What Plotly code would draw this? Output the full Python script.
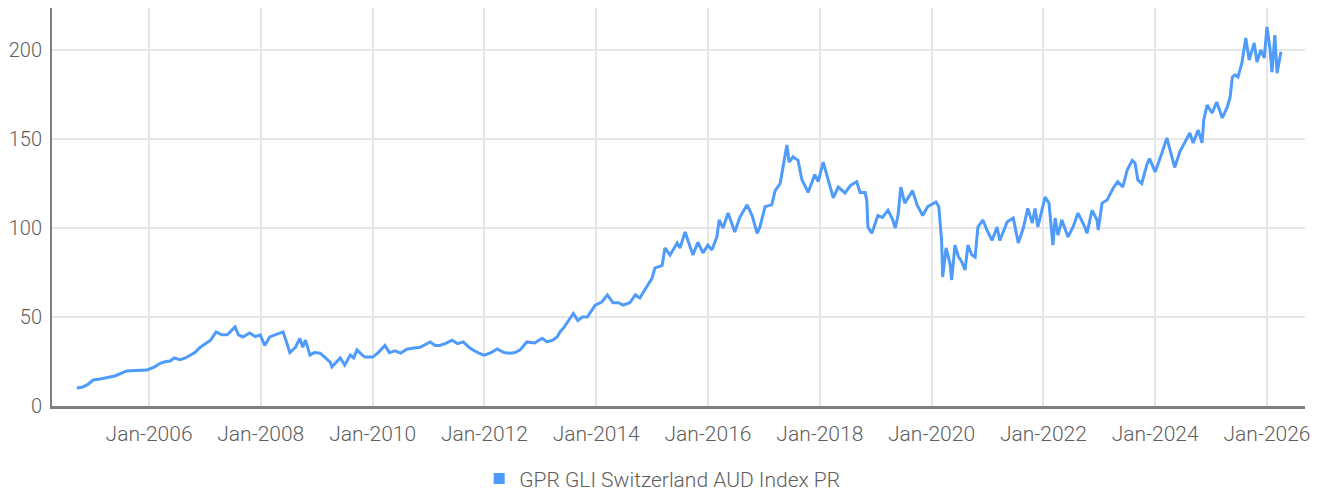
import plotly.graph_objects as go
import pandas as pd

# decimal-year positions
years = [
    2004.71, 2004.80, 2004.90, 2005.00, 2005.10, 2005.20, 2005.30, 2005.40, 2005.50, 2005.60,
    2005.75, 2005.96, 2006.10, 2006.20, 2006.30, 2006.38, 2006.45, 2006.55, 2006.65, 2006.73,
    2006.82, 2006.90, 2007.00, 2007.10, 2007.20, 2007.30, 2007.40, 2007.47, 2007.54, 2007.60,
    2007.68, 2007.80, 2007.90, 2007.99, 2008.07, 2008.16, 2008.28, 2008.40, 2008.46, 2008.52,
    2008.62, 2008.70, 2008.75, 2008.80, 2008.88, 2008.96, 2009.06, 2009.15, 2009.24, 2009.27,
    2009.35, 2009.42, 2009.50, 2009.60, 2009.66, 2009.72, 2009.80, 2009.86, 2010.00, 2010.10,
    2010.22, 2010.30, 2010.40, 2010.50, 2010.62, 2010.72, 2010.85, 2011.03, 2011.12, 2011.20,
    2011.30, 2011.42, 2011.52, 2011.62, 2011.68, 2011.74, 2011.82, 2011.90, 2012.00, 2012.12,
    2012.23, 2012.35, 2012.46, 2012.55, 2012.64, 2012.76, 2012.90, 2013.03, 2013.12, 2013.22,
    2013.30, 2013.35, 2013.42, 2013.48, 2013.59, 2013.67, 2013.75, 2013.84, 2013.92, 2013.98,
    2014.10, 2014.20, 2014.30, 2014.40, 2014.48, 2014.60, 2014.70, 2014.78, 2014.90, 2015.00,
    2015.05, 2015.18, 2015.23, 2015.32, 2015.45, 2015.50, 2015.59, 2015.64, 2015.73, 2015.82,
    2015.91, 2016.00, 2016.07, 2016.16, 2016.20, 2016.27, 2016.36, 2016.48, 2016.57, 2016.70,
    2016.79, 2016.88, 2016.93, 2017.02, 2017.14, 2017.20, 2017.29, 2017.34, 2017.41, 2017.45,
    2017.52, 2017.61, 2017.68, 2017.73, 2017.79, 2017.85, 2017.91, 2017.97, 2018.06, 2018.15,
    2018.24, 2018.33, 2018.45, 2018.55, 2018.66, 2018.72, 2018.81, 2018.84, 2018.86, 2018.93,
    2019.04, 2019.12, 2019.22, 2019.30, 2019.35, 2019.40, 2019.45, 2019.52, 2019.60, 2019.66,
    2019.74, 2019.84, 2019.93, 2020.00, 2020.08, 2020.13, 2020.18, 2020.20, 2020.26, 2020.33,
    2020.36, 2020.42, 2020.48, 2020.54, 2020.60, 2020.65, 2020.72, 2020.78, 2020.83, 2020.92,
    2020.99, 2021.08, 2021.17, 2021.22, 2021.35, 2021.46, 2021.55, 2021.64, 2021.72, 2021.80,
    2021.85, 2021.90, 2022.03, 2022.10, 2022.17, 2022.21, 2022.26, 2022.33, 2022.44, 2022.53,
    2022.62, 2022.74, 2022.78, 2022.87, 2022.96, 2022.98, 2023.05, 2023.14, 2023.25, 2023.33,
    2023.42, 2023.50, 2023.59, 2023.64, 2023.69, 2023.76, 2023.85, 2023.90, 2024.00, 2024.12,
    2024.21, 2024.30, 2024.35, 2024.44, 2024.53, 2024.62, 2024.68, 2024.77, 2024.84, 2024.87,
    2024.93, 2025.02, 2025.10, 2025.20, 2025.29, 2025.34, 2025.38, 2025.43, 2025.48, 2025.55,
    2025.62, 2025.68, 2025.77, 2025.82, 2025.89, 2025.95, 2026.00, 2026.05, 2026.09, 2026.14,
    2026.18, 2026.21, 2026.25,
]

index_values = [
    10.1, 10.5, 12.0, 14.6, 15.0, 15.5, 16.3, 17.0, 18.5, 19.7,
    20.0, 20.2, 22.0, 24.0, 25.0, 25.3, 27.0, 26.0, 27.0, 28.6,
    30.0, 32.6, 35.0, 37.0, 41.6, 40.0, 40.0, 42.0, 44.4, 40.0,
    38.8, 41.0, 39.0, 40.0, 34.0, 38.8, 40.0, 41.6, 36.0, 30.0,
    33.0, 38.0, 33.0, 37.0, 28.6, 30.0, 29.7, 27.0, 24.7, 22.0,
    25.0, 27.0, 23.0, 28.6, 27.0, 31.5, 29.0, 27.5, 27.5, 30.0,
    34.0, 30.0, 31.0, 29.7, 32.0, 32.6, 33.0, 36.0, 34.0, 34.0,
    35.0, 37.0, 35.0, 36.0, 34.0, 32.6, 31.0, 29.7, 28.6, 30.0,
    32.0, 30.0, 29.7, 30.0, 31.5, 36.0, 35.4, 38.0, 36.0, 37.0,
    38.8, 41.6, 44.0, 46.6, 52.0, 48.0, 50.0, 50.0, 54.0, 56.7,
    58.4, 62.4, 58.0, 58.0, 56.7, 58.0, 62.4, 60.7, 66.9, 71.9,
    77.5, 79.0, 88.8, 84.8, 91.6, 88.8, 97.8, 93.0, 84.8, 92.0,
    86.0, 90.4, 87.6, 95.0, 104.5, 100.0, 108.4, 97.8, 106.0, 113.0,
    107.0, 97.0, 100.6, 112.0, 113.0, 121.0, 125.0, 134.0, 146.6, 137.0,
    140.0, 138.0, 127.0, 124.0, 120.0, 125.0, 130.0, 126.0, 137.0, 127.0,
    117.0, 123.0, 119.7, 124.0, 126.0, 120.0, 120.0, 115.7, 100.6, 97.0,
    107.0, 106.0, 110.0, 105.0, 100.0, 107.0, 123.0, 114.0, 118.0, 121.0,
    113.0, 107.0, 112.0, 113.0, 114.6, 112.0, 93.0, 72.5, 88.8, 80.0,
    70.8, 90.4, 84.0, 81.0, 76.4, 90.4, 85.0, 83.7, 100.6, 104.5,
    98.9, 93.0, 100.6, 93.0, 103.4, 105.6, 91.6, 100.0, 111.0, 102.8,
    111.0, 100.6, 117.4, 114.0, 90.4, 105.6, 96.0, 104.5, 95.0, 100.6,
    108.4, 100.6, 97.0, 110.0, 104.5, 98.9, 114.0, 115.7, 122.5, 126.0,
    123.0, 132.6, 138.0, 136.5, 127.0, 125.0, 135.4, 139.0, 131.5, 142.0,
    150.6, 140.0, 134.0, 142.7, 147.8, 153.4, 147.8, 155.0, 147.8, 160.7,
    169.0, 164.6, 170.8, 161.8, 168.0, 173.6, 184.8, 186.0, 184.8, 192.7,
    206.7, 194.4, 204.0, 193.3, 200.0, 195.5, 213.0, 201.7, 187.6, 208.4,
    187.0, 192.7, 199.0,
]

series_name = "GPR GLI Switzerland AUD Index PR"
y_ticks = [0, 50, 100, 150, 200]


def to_date(y):
    yr = int(y)
    return pd.Timestamp(year=yr, month=1, day=1) + pd.Timedelta(days=(y - yr) * 365.25)


dates = [to_date(y) for y in years]

LINE = "#4f9bfc"
FONT = "Roboto, Liberation Sans, sans-serif"
TXT = "#5e5e5e"

fig = go.Figure()
fig.add_trace(go.Scatter(
    x=dates, y=index_values, mode="lines", name=series_name,
    line=dict(color=LINE, width=3), showlegend=False,
))
fig.add_trace(go.Scatter(
    x=[None], y=[None], mode="markers", name=series_name,
    marker=dict(symbol="square", color=LINE, size=11), showlegend=True,
))

# page body adds an 8px offset, so the figure is sized 8px smaller
fig.update_layout(
    width=1315, height=485,
    margin=dict(l=44, r=18, t=0, b=87, autoexpand=False),
    paper_bgcolor="white", plot_bgcolor="white",
    font=dict(family=FONT, size=21, color=TXT, weight=300),
    legend=dict(orientation="h", x=0.487, xanchor="center", y=-0.183, yanchor="middle",
                font=dict(family=FONT, size=21, color=TXT, weight=300), itemwidth=30),
    xaxis=dict(
        type="date", automargin=False,
        range=[to_date(2004.265), to_date(2026.68)],
        tick0="2006-01-01", dtick="M24", tickformat="%b-%Y",
        showgrid=True, gridcolor="#e6e6e6", gridwidth=2,
        showline=True, linecolor="#7f7f7f", linewidth=2.5,
        ticks="outside", ticklen=7, tickcolor="rgba(0,0,0,0)",
        zeroline=False,
    ),
    yaxis=dict(
        range=[0, 223.6], tickvals=y_ticks, automargin=False,
        tickfont=dict(size=20),
        showgrid=True, gridcolor="#e6e6e6", gridwidth=2,
        showline=True, linecolor="#7f7f7f", linewidth=2,
        ticks="outside", ticklen=4, tickcolor="rgba(0,0,0,0)",
        zeroline=False,
    ),
)

fig.write_html("out.html")
